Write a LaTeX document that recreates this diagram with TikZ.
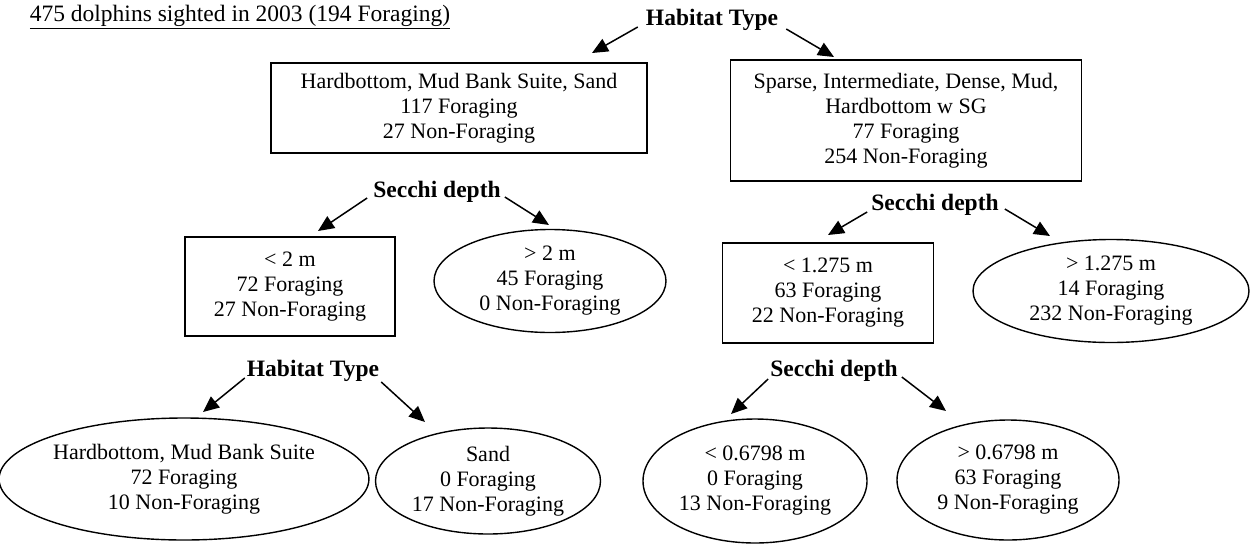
\documentclass[tikz,border=0pt]{standalone}
\usepackage{fontspec}
\setmainfont{Liberation Serif}
\usetikzlibrary{arrows.meta,shapes.geometric,calc}
\begin{document}
\begin{tikzpicture}[x=1pt,y=-1pt,
  txt/.style={font=\fontsize{22}{25}\selectfont, align=center},
  lbl/.style={font=\fontsize{23.5}{26}\selectfont\bfseries, inner sep=0pt},
  rbox/.style={txt, draw, line width=1.6pt, rectangle, inner sep=0pt},
  oval/.style={txt, draw, line width=1.4pt, ellipse, inner sep=0pt},
  arr/.style={line width=1.5pt, -{Triangle[length=16pt,width=14pt]}}]
\useasboundingbox[fill=white] (0,0) rectangle (1252,544);

\node[txt, inner sep=0pt, font=\fontsize{23.5}{26}\selectfont] (title) at (240,17) {\underline{475 dolphins sighted in 2003 (194 Foraging)}};

\node[lbl] (ht1) at (712,20) {Habitat Type};
\node[rbox, minimum width=376pt, minimum height=90pt] (boxA) at (459,108) {Hardbottom, Mud Bank Suite, Sand\\117 Foraging\\27 Non-Foraging};
\node[rbox, minimum width=351pt, minimum height=121pt] (boxB) at (906,120.5) {Sparse, Intermediate, Dense, Mud,\\Hardbottom w SG\\77 Foraging\\254 Non-Foraging};

\node[lbl] (sd1) at (437,192) {Secchi depth};
\node[rbox, minimum width=210pt, minimum height=99pt] (boxC) at (290,286.5) {< 2 m\\72 Foraging\\27 Non-Foraging};
\node[oval, minimum width=232pt, minimum height=103pt] (ellD) at (550,281) {> 2 m\\45 Foraging\\0 Non-Foraging};

\node[lbl] (sd2) at (935,205) {Secchi depth};
\node[rbox, minimum width=211pt, minimum height=100pt] (boxE) at (828,293) {< 1.275 m\\63 Foraging\\22 Non-Foraging};
\node[oval, minimum width=276pt, minimum height=103pt] (ellF) at (1111,291) {> 1.275 m\\14 Foraging\\232 Non-Foraging};

\node[lbl] (ht3) at (313,371) {Habitat Type};
\node[oval, minimum width=360pt, minimum height=122pt] (ellG) at (184,479) {Hardbottom, Mud Bank Suite\\72 Foraging\\10 Non-Foraging};
\node[oval, minimum width=225pt, minimum height=106pt] (ellH) at (488,481) {Sand\\0 Foraging\\17 Non-Foraging};

\node[lbl] (sd3) at (834,371) {Secchi depth};
\node[oval, minimum width=224pt, minimum height=124pt] (ellI) at (755,481) {< 0.6798 m\\0 Foraging\\13 Non-Foraging};
\node[oval, minimum width=222pt, minimum height=120pt] (ellJ) at (1008,480) {> 0.6798 m\\63 Foraging\\9 Non-Foraging};

\coordinate (tA) at (592,53);
\coordinate (tB) at (834,57);
\coordinate (tC) at (318,231);
\coordinate (tD) at (549,225);
\coordinate (tE) at (828,235);
\coordinate (tF) at (1050,236);
\coordinate (tG) at (203,412);
\coordinate (tH) at (425,422);
\coordinate (tI) at (731,414);
\coordinate (tJ) at (946,411);

\draw[arr] ([xshift=-8pt,yshift=-7pt]ht1.west) -- (tA);
\draw[arr] ([xshift=8pt,yshift=-9pt]ht1.east) -- (tB);
\draw[arr] ([xshift=-6pt,yshift=-6pt]sd1.west) -- (tC);
\draw[arr] ([xshift=4pt,yshift=-5pt]sd1.east) -- (tD);
\draw[arr] ([xshift=-4pt,yshift=-7pt]sd2.west) -- (tE);
\draw[arr] ([xshift=6pt,yshift=-4pt]sd2.east) -- (tF);
\draw[arr] ([xshift=-2pt,yshift=-7pt]ht3.west) -- (tG);
\draw[arr] ([xshift=2pt,yshift=-11pt]ht3.east) -- (tH);
\draw[arr] ([xshift=-2pt,yshift=-8pt]sd3.west) -- (tI);
\draw[arr] ([xshift=4pt,yshift=-6pt]sd3.east) -- (tJ);
\end{tikzpicture}
\end{document}
